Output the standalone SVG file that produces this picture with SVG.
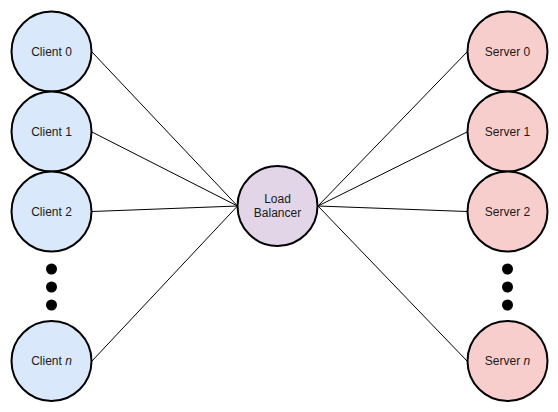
<svg xmlns="http://www.w3.org/2000/svg" width="558" height="412" viewBox="0 0 558 412">
<style>
.n{stroke:#000;stroke-width:2}
.c{fill:#dae8fc}
.s{fill:#f8cecc}
.lb{fill:#e1d5e7}
.t{font-family:"Liberation Sans",Arial,sans-serif;font-size:12px;fill:#1a1a1a;text-anchor:middle;dominant-baseline:central}
.e{stroke:#000;stroke-width:1;fill:none}
.d{fill:#000}
</style>
<rect width="558" height="412" fill="#fff"/>
<g id="edges">
<line class="e" x1="92" y1="52" x2="237.5" y2="206"/>
<line class="e" x1="92" y1="132" x2="237.5" y2="206"/>
<line class="e" x1="92" y1="211.5" x2="237.5" y2="206"/>
<line class="e" x1="92" y1="361" x2="237.5" y2="206"/>
<line class="e" x1="318" y1="206" x2="467" y2="52"/>
<line class="e" x1="318" y1="206" x2="467" y2="132"/>
<line class="e" x1="318" y1="206" x2="467" y2="211.5"/>
<line class="e" x1="318" y1="206" x2="467" y2="361"/>
</g>
<g id="client0"><circle class="n c" cx="51.5" cy="51.5" r="40"/><text class="t" x="51.5" y="51.5">Client 0</text></g>
<g id="client1"><circle class="n c" cx="51.5" cy="131.5" r="40"/><text class="t" x="51.5" y="131.5">Client 1</text></g>
<g id="client2"><circle class="n c" cx="51.5" cy="211.5" r="40"/><text class="t" x="51.5" y="211.5">Client 2</text></g>
<g id="clientdots"><circle class="d" cx="51.5" cy="269" r="5.5"/><circle class="d" cx="51.5" cy="287" r="5.5"/><circle class="d" cx="51.5" cy="305" r="5.5"/></g>
<g id="clientn"><circle class="n c" cx="51.5" cy="361" r="40"/><text class="t" x="51.5" y="361">Client <tspan font-style="italic">n</tspan></text></g>
<g id="loadbalancer"><circle class="n lb" cx="277.5" cy="206" r="40"/><text class="t" x="277.5" y="199">Load</text><text class="t" x="277.5" y="213">Balancer</text></g>
<g id="server0"><circle class="n s" cx="507.5" cy="51.5" r="40"/><text class="t" x="507.5" y="51.5">Server 0</text></g>
<g id="server1"><circle class="n s" cx="507.5" cy="131.5" r="40"/><text class="t" x="507.5" y="131.5">Server 1</text></g>
<g id="server2"><circle class="n s" cx="507.5" cy="211.5" r="40"/><text class="t" x="507.5" y="211.5">Server 2</text></g>
<g id="serverdots"><circle class="d" cx="507.5" cy="269" r="5.5"/><circle class="d" cx="507.5" cy="287" r="5.5"/><circle class="d" cx="507.5" cy="305" r="5.5"/></g>
<g id="servern"><circle class="n s" cx="507.5" cy="361" r="40"/><text class="t" x="507.5" y="361">Server <tspan font-style="italic">n</tspan></text></g>
</svg>
